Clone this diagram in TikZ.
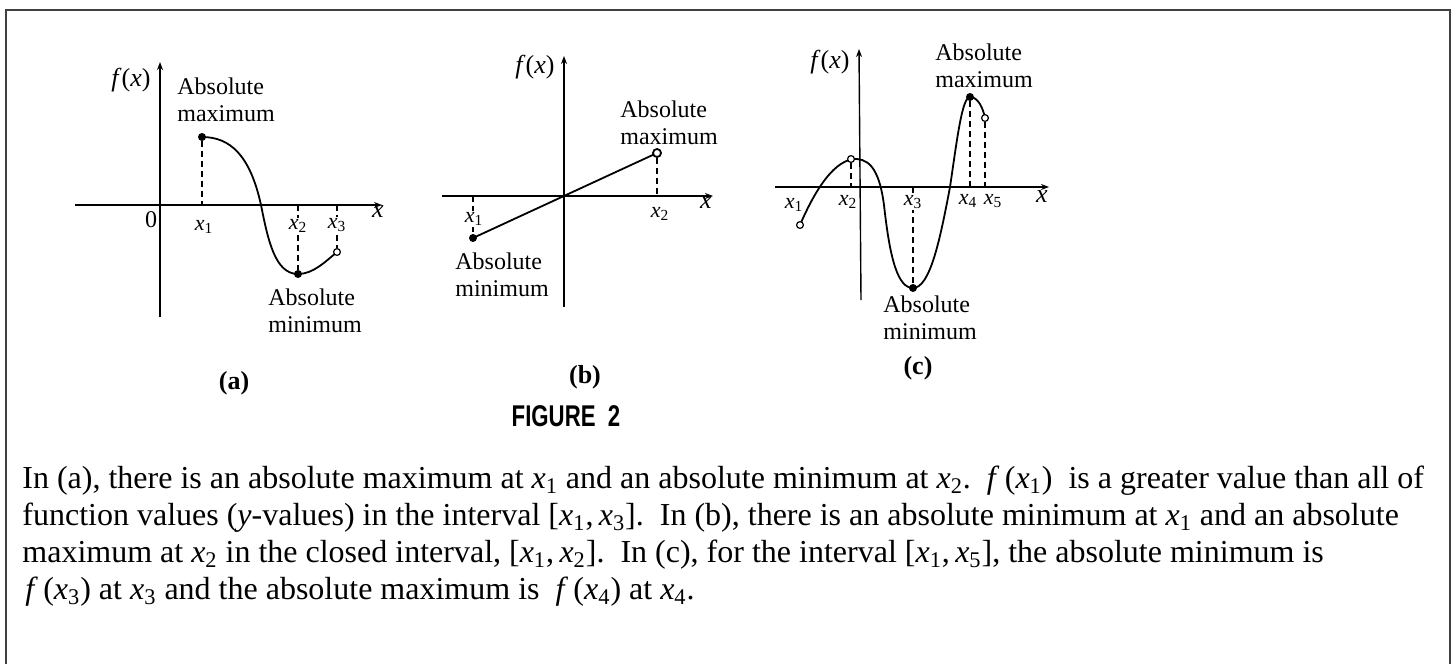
\documentclass[tikz,border=0pt]{standalone}
\usepackage{fontspec}
\setmainfont{Liberation Serif}
\setsansfont{Liberation Sans}
\usepackage{tikz}
\usetikzlibrary{arrows.meta,positioning}
\newcommand{\xsub}[1]{\textit{x}\textsubscript{#1}}
\newcommand{\fxsub}[1]{\textit{f}\,(\xsub{#1})}

\begin{document}
\begin{tikzpicture}[x=0.5pt,y=-0.5pt,>={Stealth[length=4pt,width=3pt]},
axis/.style={->,line width=0.7pt},
curve/.style={line width=0.9pt},
guide/.style={line width=0.6pt,dash pattern=on 3pt off 2pt},
lab/.style={font=\fontsize{12}{13.5}\selectfont,align=left,anchor=north west,inner sep=0pt},
tick/.style={font=\fontsize{11}{12}\selectfont,fill=white,inner sep=0.5pt},
fun/.style={font=\fontsize{13}{14}\selectfont,inner sep=0pt},
panel/.style={font=\fontsize{13}{14}\selectfont\bfseries,inner sep=0pt},
body/.style={font=\fontsize{16}{18.5}\selectfont,anchor=base west,inner sep=0pt},
dot/.style={circle,fill,inner sep=0pt,minimum size=4pt},
hole/.style={circle,draw,fill=white,inner sep=0pt,minimum size=3.4pt,line width=0.6pt}]
\useasboundingbox (0,0) rectangle (1456,664);
\draw[line width=1pt,black!75] (6,664) -- (6,10) -- (1450,10) -- (1450,664);

\draw[axis] (75,205) -- (382,205);
\draw[axis] (160,317) -- (160,62);
\node[fun] (fa) at (131,80) {\textit{f}(\textit{x})};
\node[fun] (xa) at (378,212) {\textit{x}};
\node[font=\fontsize{12}{13}\selectfont,inner sep=0pt] (oa) at (151,220) {0};
\draw[curve] (202,137) .. controls (230,137) and (250,155) .. (261,205) .. controls (268,240) and (275,274) .. (298,274) .. controls (313,274) and (325,262) .. (337,252);
\node[dot] (amax) at (202,137) {};
\node[dot] (amin) at (298,274) {};
\node[hole] (aend) at (337,252) {};
\coordinate (a1) at (202,205);
\coordinate (a2) at (298,205);
\coordinate (a3) at (337,205);
\draw[guide] (amax) -- (a1);
\draw[guide] (a2) -- (amin);
\draw[guide] (a3) -- (aend);
\node[tick] (ta1) at (204,227) {\xsub1};
\node[tick] (ta2) at (298,226) {\xsub2};
\node[tick] (ta3) at (337,225) {\xsub3};
\node[lab] (amaxl) at (177,77) {Absolute\\maximum};
\node[lab] (aminl) at (268,288) {Absolute\\minimum};
\node[panel] (capa) at (234,383) {(a)};

\draw[axis] (442,196) -- (713,196);
\draw[axis] (564,307) -- (564,56);
\node[fun] (fb) at (535,67) {\textit{f}(\textit{x})};
\node[fun] (xb) at (706,203) {\textit{x}};
\draw[curve] (473,238) -- (657,153);
\node[dot] (bmin) at (473,238) {};
\node[hole,minimum size=4pt,line width=0.9pt] (bmax) at (657,153) {};
\coordinate (b1) at (473,196);
\coordinate (b2) at (657,196);
\draw[guide] (b1) -- (bmin);
\draw[guide] (bmax) -- (b2);
\node[tick] (tb1) at (474,219) {\xsub1};
\node[tick] (tb2) at (660,214) {\xsub2};
\node[lab] (bmaxl) at (620,100) {Absolute\\maximum};
\node[lab] (bminl) at (455,252) {Absolute\\minimum};
\node[panel] (capb) at (585,377) {(b)};
\node[font=\fontsize{15}{16}\selectfont\sffamily\bfseries,inner sep=0pt] (fig) at (566,416) {\scalebox{0.74}[1]{FIGURE\ \ 2}};

\draw[axis] (775,187) -- (1049,187);
\draw[axis] (861,300) -- (859,49);
\node[fun] (fc) at (830,62) {\textit{f}(\textit{x})};
\node[fun] (xc) at (1042,197) {\textit{x}};
\draw[curve] (800,225) .. controls (815,190) and (835,158) .. (857,159) .. controls (872,160) and (880,175) .. (884,205) .. controls (890,260) and (898,288) .. (913,288) .. controls (930,288) and (940,240) .. (950,187) .. controls (957,140) and (962,97) .. (970,97) .. controls (978,97) and (983,108) .. (985,118);
\node[hole] (cx1) at (800,225) {};
\node[hole] (cx2) at (851,159) {};
\node[dot] (cmin) at (913,288) {};
\node[dot] (cmax) at (970,97) {};
\node[hole] (cend) at (985,118) {};
\coordinate (c2) at (851,187);
\coordinate (c3) at (913,187);
\coordinate (c4) at (970,187);
\coordinate (c5) at (985,187);
\draw[guide] (cx2) -- (c2);
\draw[guide] (c3) -- (cmin);
\draw[guide] (cmax) -- (c4);
\draw[guide] (cend) -- (c5);
\node[tick] (tc1) at (794,205) {\xsub1};
\node[tick] (tc2) at (848,202) {\xsub2};
\node[tick] (tc3) at (913,202) {\xsub3};
\node[tick] (tc4) at (968,201) {\xsub4};
\node[tick] (tc5) at (993,201) {\xsub5};
\node[lab] (cmaxl) at (935,43) {Absolute\\maximum};
\node[lab] (cminl) at (883,295) {Absolute\\minimum};
\node[panel] (capc) at (918,368) {(c)};

\node[body] (line1) at (22,488) {In (a), there is an absolute maximum at \xsub1 and an absolute minimum at \xsub2.\ \ \fxsub1\ \ is a greater value than all of};
\node[body] (line2) at (22,525) {function values (\textit{y}-values) in the interval [\xsub1,\,\xsub3].\ \ In (b), there is an absolute minimum at \xsub1 and an absolute};
\node[body] (line3) at (22,562) {maximum at \xsub2 in the closed interval, [\xsub1,\,\xsub2].\ \ In (c), for the interval [\xsub1,\,\xsub5], the absolute minimum is};
\node[body] (line4) at (25,599) {\fxsub3 at \xsub3 and the absolute maximum is \ \fxsub4 at \xsub4.};
\end{tikzpicture}
\end{document}
